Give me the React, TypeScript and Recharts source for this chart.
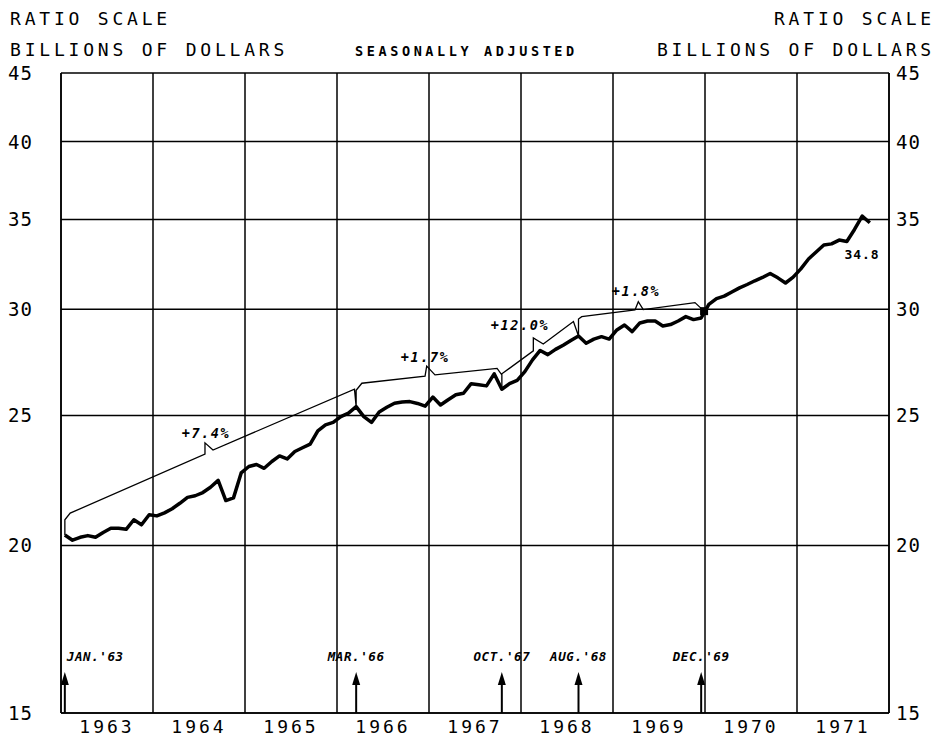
import React from "react";
import { ComposedChart, Line, Scatter, XAxis, YAxis, CartesianGrid, ReferenceLine } from "recharts";

// monthly series, billions of dollars, Jan 1963 .. Oct 1971
const firstYear = 1963;
const years = [1963, 1964, 1965, 1966, 1967, 1968, 1969, 1970, 1971];
const yearEdges = [1963, 1964, 1965, 1966, 1967, 1968, 1969, 1970, 1971, 1972];
const yTicks = [15, 20, 25, 30, 35, 40, 45];

const monthlyValues = [
  20.36, 20.18, 20.28, 20.34, 20.28, 20.45, 20.6, 20.6, 20.56, 20.9, 20.72, 21.08,
  21.04, 21.15, 21.3, 21.5, 21.72, 21.78, 21.9, 22.1, 22.36, 21.6, 21.7, 22.65,
  22.9, 22.98, 22.83, 23.1, 23.32, 23.2, 23.5, 23.65, 23.8, 24.35, 24.6, 24.7,
  24.95, 25.1, 25.38, 24.95, 24.7, 25.15, 25.35, 25.53, 25.58, 25.6, 25.52, 25.4,
  25.8, 25.45, 25.68, 25.9, 25.97, 26.4, 26.35, 26.3, 26.85, 26.15, 26.4, 26.55,
  26.95, 27.5, 27.95, 27.75, 28.0, 28.2, 28.43, 28.65, 28.3, 28.5, 28.62, 28.5,
  28.95, 29.2, 28.87, 29.3, 29.4, 29.4, 29.15, 29.22, 29.4, 29.62, 29.47, 29.55,
  30.25, 30.55, 30.68, 30.9, 31.12, 31.3, 31.5, 31.68, 31.9, 31.66, 31.38, 31.7,
  32.15, 32.7, 33.1, 33.5, 33.56, 33.78, 33.7, 34.4, 35.2, 34.8,
];

// thin trend line between the turning points, [date, level]
const trendPoints: [number, number][] = [
  [1963.042, 20.36], [1963.042, 20.9], [1963.1, 21.14],
  [1964.565, 23.39], [1964.565, 23.85], [1964.652, 23.56],
  [1966.19, 26.15], [1966.208, 25.38], [1966.208, 26.1], [1966.27, 26.42],
  [1966.957, 26.74], [1966.975, 27.21], [1967.065, 26.8],
  [1967.74, 27.1], [1967.792, 26.8], [1967.792, 26.15], [1967.792, 26.85],
  [1968.134, 27.93], [1968.134, 28.56], [1968.242, 28.26],
  [1968.57, 29.37], [1968.625, 28.65], [1968.625, 29.5], [1968.66, 29.62],
  [1969.239, 29.96], [1969.275, 30.39], [1969.329, 29.98],
  [1969.891, 30.34], [1969.99, 29.9],
];

const growthLabels = [
  { text: "+7.4%", t: 1964.576, v: 24.26 },
  { text: "+1.7%", t: 1966.957, v: 27.64 },
  { text: "+12.0%", t: 1967.989, v: 29.2 },
  { text: "+1.8%", t: 1969.25, v: 30.95 },
];
const lastValueLabel = [{ text: "34.8", t: 1971.707, v: 32.98 }];

const turningPoints = [
  { label: "JAN.'63", month: 0 },
  { label: "MAR.'66", month: 38 },
  { label: "OCT.'67", month: 57 },
  { label: "AUG.'68", month: 67 },
  { label: "DEC.'69", month: 83 },
];
const junctionMark = [{ t: 1969.99, v: 29.9 }];

const monthTime = (i: number) => firstYear + (i + 0.5) / 12;

const series = monthlyValues.map((v, i) => ({ t: monthTime(i), v }));
const trend = trendPoints.map(([t, v]) => ({ t, v }));
const arrows = turningPoints.map((p) => ({ t: monthTime(p.month), v: 15, label: p.label, month: p.month }));

const letterFont = "'DejaVu Sans Mono', monospace";

const LeftTick = ({ x, y, payload }: any) => (
  <text x={x - 26} y={y} textAnchor="end" dominantBaseline="central" fontFamily={letterFont} fontSize={19} letterSpacing={1} fill="#000">
    {payload.value}
  </text>
);

const RightTick = ({ x, y, payload }: any) => (
  <text x={x + 5} y={y} textAnchor="start" dominantBaseline="central" fontFamily={letterFont} fontSize={19} letterSpacing={1} fill="#000">
    {payload.value}
  </text>
);

const YearTick = ({ x, y, payload }: any) => (
  <text x={x} y={y + 11} textAnchor="middle" dominantBaseline="central" fontFamily={letterFont} fontSize={18} letterSpacing={3} fill="#000">
    {Math.floor(payload.value)}
  </text>
);

const ArrowMark = ({ cx, cy, payload }: any) => {
  const first = payload.month === 0;
  return (
    <g>
      <line x1={cx} y1={cy} x2={cx} y2={cy - 30} stroke="#000" strokeWidth={2} />
      <path d={`M${cx - 4},${cy - 28} L${cx},${cy - 41} L${cx + 4},${cy - 28} Z`} fill="#000" />
      <text
        x={first ? cx + 2 : cx}
        y={cy - 57}
        textAnchor={first ? "start" : "middle"}
        dominantBaseline="central"
        fontFamily={letterFont}
        fontSize={12.5}
        fontWeight="bold"
        fontStyle="italic"
        letterSpacing={0.6}
        fill="#000"
      >
        {payload.label}
      </text>
    </g>
  );
};

const NoteText = ({ cx, cy, payload }: any) => (
  <text x={cx} y={cy} textAnchor="middle" dominantBaseline="central" fontFamily={letterFont} fontSize={13.5} fontWeight="bold" fontStyle="italic" letterSpacing={1.6} fill="#000">
    {payload.text}
  </text>
);

const ValueText = ({ cx, cy, payload }: any) => (
  <text x={cx} y={cy} textAnchor="middle" dominantBaseline="central" fontFamily={letterFont} fontSize={13} fontWeight="bold" letterSpacing={1} fill="#000">
    {payload.text}
  </text>
);

const SquareMark = ({ cx, cy }: any) => <rect x={cx - 4} y={cy - 4} width={8} height={8} fill="#000" />;

export default function App() {
  const head = { fontFamily: letterFont, fill: "#000" };
  return (
    <div style={{ position: "absolute", left: 0, top: 0, width: 944, height: 750, background: "#fff" }}>
      <ComposedChart width={944} height={750} margin={{ top: 73, right: 5, bottom: 7, left: 11 }}>
        <CartesianGrid vertical={false} stroke="#000" strokeWidth={1.5} />
        {yearEdges.map((e) => (
          <ReferenceLine key={e} x={e} stroke="#000" strokeWidth={1.5} />
        ))}
        <XAxis
          dataKey="t"
          type="number"
          domain={[1963, 1972]}
          ticks={years.map((y) => y + 0.5)}
          tick={<YearTick />}
          tickLine={false}
          tickSize={0}
          axisLine={{ stroke: "#000", strokeWidth: 1.5 }}
          height={30}
          allowDataOverflow
        />
        <YAxis
          dataKey="v"
          scale="log"
          domain={[15, 45]}
          ticks={yTicks}
          tick={<LeftTick />}
          tickLine={false}
          tickSize={0}
          axisLine={{ stroke: "#000", strokeWidth: 1.5 }}
          width={50}
          allowDataOverflow
        />
        <YAxis
          yAxisId="r"
          orientation="right"
          scale="log"
          domain={[15, 45]}
          ticks={yTicks}
          tick={<RightTick />}
          tickLine={false}
          tickSize={0}
          axisLine={{ stroke: "#000", strokeWidth: 1.5 }}
          width={50}
          allowDataOverflow
        />
        <Line data={trend} dataKey="v" type="linear" stroke="#000" strokeWidth={1.3} dot={false} isAnimationActive={false} />
        <Line data={series} dataKey="v" type="linear" stroke="#000" strokeWidth={3.5} strokeLinejoin="round" dot={false} isAnimationActive={false} />
        <Scatter data={junctionMark} dataKey="v" shape={<SquareMark />} isAnimationActive={false} />
        <Scatter data={growthLabels} dataKey="v" shape={<NoteText />} isAnimationActive={false} />
        <Scatter data={lastValueLabel} dataKey="v" shape={<ValueText />} isAnimationActive={false} />
        <Scatter data={arrows} dataKey="v" shape={<ArrowMark />} isAnimationActive={false} />
      </ComposedChart>
      <svg width={944} height={70} style={{ position: "absolute", left: 0, top: 0, pointerEvents: "none" }}>
        <text x={10} y={18} dominantBaseline="central" fontSize={18} letterSpacing={3.8} {...head}>RATIO SCALE</text>
        <text x={10} y={49} dominantBaseline="central" fontSize={18} letterSpacing={3.8} {...head}>BILLIONS OF DOLLARS</text>
        <text x={355} y={51} dominantBaseline="central" fontSize={13.5} fontWeight="bold" letterSpacing={3.6} {...head}>SEASONALLY ADJUSTED</text>
        <text x={935} y={18} textAnchor="end" dominantBaseline="central" fontSize={18} letterSpacing={3.8} {...head}>RATIO SCALE</text>
        <text x={935} y={49} textAnchor="end" dominantBaseline="central" fontSize={18} letterSpacing={3.8} {...head}>BILLIONS OF DOLLARS</text>
      </svg>
    </div>
  );
}
